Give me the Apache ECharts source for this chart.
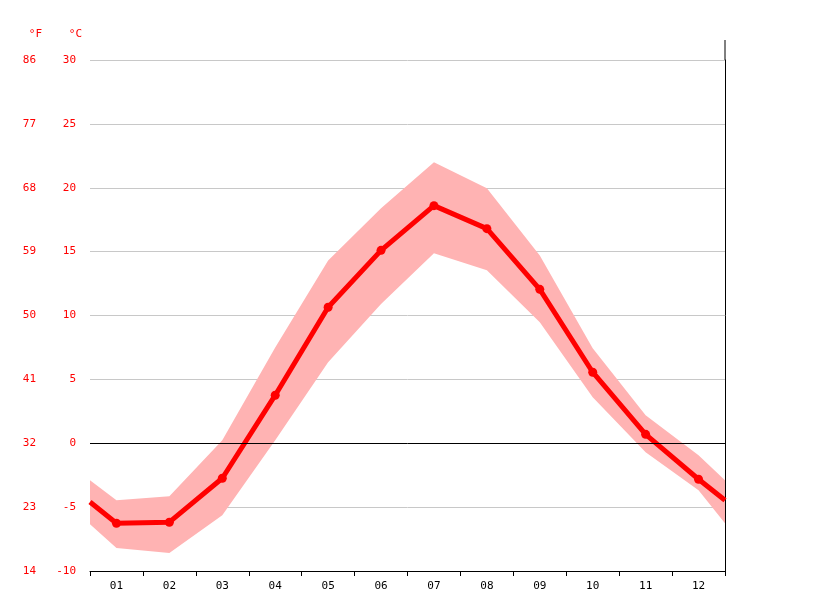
<!DOCTYPE html>
<html lang="en">
<head>
    <meta charset="UTF-8">
    <title>Climate chart</title>
    <style>
        body { margin: 0; background: #fff; }
        #chart { width: 815px; height: 611px; }
    </style>
</head>
<body>
<div id="chart"></div>
<script src="https://cdn.jsdelivr.net/npm/echarts@6/dist/echarts.min.js"></script>
<script>
    // months, and x positions (0.5 and 12.5 are the wrap-around edges)
    const months = ['01', '02', '03', '04', '05', '06', '07', '08', '09', '10', '11', '12'];
    const xPos = [0.5, 1, 2, 3, 4, 5, 6, 7, 8, 9, 10, 11, 12, 12.5];

    // temperatures in °C
    const meanTemp = [-4.6, -6.26, -6.18, -2.74, 3.76, 10.65, 15.1, 18.6, 16.8, 12.05, 5.56, 0.7, -2.82, -4.46];
    const highTemp = [-2.9, -4.46, -4.15, 0.23, 7.5, 14.3, 18.4, 22.0, 19.96, 14.7, 7.44, 2.2, -0.94, -2.9];
    const lowTemp = [-6.34, -8.2, -8.6, -5.64, 0.23, 6.34, 10.9, 14.87, 13.54, 9.47, 3.6, -0.7, -3.68, -6.26];

    const pair = (arr) => arr.map((v, i) => [xPos[i], v]);

    const font = 'DejaVu Sans Mono';
    let chart = echarts.init(document.getElementById('chart'));

    let option = {
        animation: false,
        grid: { left: 90, right: 90, top: 60, bottom: 40 },
        xAxis: [
            {
                type: 'category',
                data: months,
                boundaryGap: true,
                axisLine: { onZero: false, lineStyle: { color: '#000' } },
                axisTick: { show: true, length: 5, lineStyle: { color: '#000' } },
                axisLabel: { color: '#000', fontFamily: font, fontSize: 11, margin: 10 },
                splitLine: { show: false }
            },
            {
                type: 'value', min: 0.5, max: 12.5, show: false
            }
        ],
        yAxis: [
            {
                type: 'value', min: -10, max: 30, interval: 5,
                name: '°C', nameLocation: 'end', nameGap: 20,
                nameTextStyle: { color: '#f00', fontFamily: font, fontSize: 11, align: 'right', padding: [0, 8, 0, 0] },
                axisLine: { show: false }, axisTick: { show: false },
                axisLabel: { color: '#f00', fontFamily: font, fontSize: 11, margin: 14 },
                splitLine: { lineStyle: { color: '#c8c8c8' } }
            },
            {
                type: 'value', min: -10, max: 30, interval: 5, position: 'left', offset: 40,
                name: '°F', nameLocation: 'end', nameGap: 20,
                nameTextStyle: { color: '#f00', fontFamily: font, fontSize: 11, align: 'right', padding: [0, 8, 0, 0] },
                axisLine: { show: false }, axisTick: { show: false },
                axisLabel: { color: '#f00', fontFamily: font, fontSize: 11, margin: 14,
                    formatter: v => Math.round(v * 1.8 + 32) },
                splitLine: { show: false }
            },
            {
                type: 'value', min: -10, max: 30, position: 'right',
                axisLine: { show: true, lineStyle: { color: '#000' } },
                axisTick: { show: false }, axisLabel: { show: false }, splitLine: { show: false }
            }
        ],
        graphic: [{
            type: 'line', shape: { x1: 725, y1: 40, x2: 725, y2: 60 },
            style: { stroke: '#000', lineWidth: 1 }
        }],
        series: [
            {
                type: 'custom', xAxisIndex: 1, silent: true, z: 1,
                data: [0],
                renderItem: function (params, api) {
                    let pts = [];
                    for (let i = 0; i < xPos.length; i++) pts.push(api.coord([xPos[i], highTemp[i]]));
                    for (let i = xPos.length - 1; i >= 0; i--) pts.push(api.coord([xPos[i], lowTemp[i]]));
                    return { type: 'polygon', shape: { points: pts }, style: { fill: '#ffb3b3' } };
                }
            },
            {
                type: 'line', xAxisIndex: 1, z: 3,
                data: pair(meanTemp).map((p, i) =>
                    (i === 0 || i === xPos.length - 1) ? { value: p, symbol: 'none' } : p),
                symbol: 'circle', symbolSize: 9,
                itemStyle: { color: '#f00' },
                lineStyle: { color: '#f00', width: 5 },
                markLine: {
                    silent: true, symbol: 'none', label: { show: false },
                    lineStyle: { color: '#000', type: 'solid', width: 1 },
                    data: [{ yAxis: 0 }]
                }
            }
        ]
    };

    chart.setOption(option);
</script>
</body>
</html>
